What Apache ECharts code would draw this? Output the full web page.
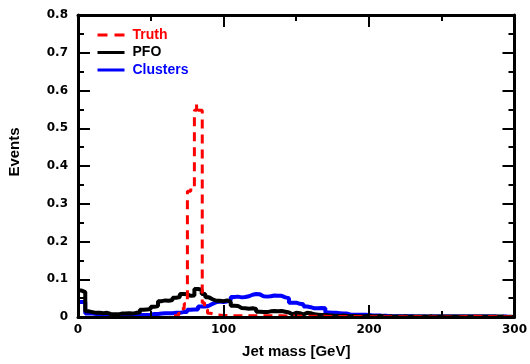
<!DOCTYPE html>
<html>
<head>
<meta charset="utf-8">
<script src="https://cdn.jsdelivr.net/npm/echarts@6/dist/echarts.min.js"></script>
<style>html,body{margin:0;padding:0;background:#fff;}#c{width:530px;height:364px;}</style>
</head>
<body>
<div id="c"></div>
<script>
// ---- data ----
var binWidth = 2.5; // GeV, PFO and Clusters histograms start at 0
var pfoValues = [
  0.070,0.066,0.015,0.013,0.011,0.011,0.010,0.011,0.008,0.007,
  0.007,0.009,0.009,0.010,0.009,0.011,0.012,0.019,0.020,0.021,
  0.027,0.029,0.042,0.044,0.043,0.045,0.051,0.053,0.061,0.060,
  0.056,0.057,0.074,0.072,0.061,0.052,0.047,0.043,0.043,0.042,
  0.044,0.040,0.030,0.029,0.024,0.023,0.022,0.023,0.021,0.014,
  0.013,0.013,0.015,0.016,0.015,0.016,0.014,0.012,0.007,0.011,
  0.010,0.007,0.011,0.010,0.007,0.006,0.005,0.005,0.004,0.004,
  0.003,0.003,0.004,0.003,0.002,0.003,0.002,0.002,0.002,0.003,
  0.002,0.002,0.003,0.002,0.001,0.002,0.001,0.001,0.001,0.002,
  0.001,0.001,0.001,0.001,0.001,0.001,0.002,0.001,0.001,0.001,
  0.001,0.001,0.001,0.001,0.001,0.001,0.001,0.001,0.001,0.001,
  0.001,0.001,0.001,0.001,0.001,0.001,0.001,0.000,0.001,0.000
];
var clusterValues = [
  0.040,0.040,0.009,0.009,0.008,0.008,0.005,0.004,0.004,0.004,
  0.004,0.004,0.004,0.003,0.004,0.004,0.005,0.005,0.005,0.006,
  0.008,0.008,0.009,0.010,0.010,0.010,0.011,0.011,0.013,0.013,
  0.019,0.020,0.020,0.028,0.028,0.030,0.035,0.039,0.041,0.040,
  0.041,0.045,0.053,0.054,0.052,0.053,0.055,0.059,0.061,0.060,
  0.055,0.054,0.055,0.057,0.056,0.056,0.052,0.050,0.038,0.038,
  0.035,0.034,0.028,0.026,0.023,0.023,0.024,0.023,0.012,0.011,
  0.011,0.010,0.009,0.009,0.006,0.006,0.006,0.006,0.006,0.005,
  0.004,0.004,0.004,0.003,0.003,0.002,0.002,0.002,0.002,0.002,
  0.002,0.002,0.001,0.001,0.001,0.001,0.001,0.001,0.001,0.001,
  0.001,0.001,0.001,0.001,0.001,0.001,0.001,0.001,0.001,0.001,
  0.001,0.001,0.001,0.001,0.001,0.000,0.001,0.001,0.000,0.000
];
var truthEdges = [66,69,71,73,75.2,77.5,80,81.5,82.5,85.4,87,89,91,95,100,110,125,140,160,200,260,270,300];
var truthValues = [0.003,0.010,0.022,0.035,0.333,0.342,0.548,0.565,0.548,0.038,0.020,0.010,0.006,0.004,0.003,0.003,0.003,0.002,0.001,0.000,0.002,0.000];
var seriesNames = ['Truth','PFO','Clusters'];
var xTicks = {min:0, max:300, interval:100};
var yTicks = {min:0, max:0.8, interval:0.1};

// ---- build step points ----
function uniformSteps(values, w){
  var pts = [];
  for (var i=0;i<values.length;i++) pts.push([i*w, values[i]]);
  pts.push([values.length*w, values[values.length-1]]);
  return pts;
}
function edgeSteps(edges, values){
  var pts = [];
  for (var i=0;i<values.length;i++) pts.push([edges[i], values[i]]);
  pts.push([edges[edges.length-1], values[values.length-1]]);
  return pts;
}

var tickFont = {fontFamily:'DejaVu Sans', fontWeight:'bold', fontSize:12, color:'#000'};
function axisCommon(extra){
  var base = {
    z:10,
    axisLine:{show:true, onZero:false, lineStyle:{color:'#000', width:3}},
    axisTick:{show:true, inside:true, length:12, lineStyle:{color:'#000', width:2}},
    minorTick:{show:true, splitNumber:2, length:6, lineStyle:{color:'#000', width:2}},
    splitLine:{show:false},
    minorSplitLine:{show:false}
  };
  for (var k in extra) base[k] = extra[k];
  return base;
}

var chart = echarts.init(document.getElementById('c'), null, {renderer:'canvas'});
chart.setOption({
  animation:false,
  backgroundColor:'#fff',
  grid:{left:78, right:15, top:15, bottom:36, containLabel:false},
  legend:{
    show:true, orient:'vertical', left:96, top:28, padding:0, itemWidth:27, itemHeight:14, itemGap:3.5,
    itemStyle:{opacity:0},
    textStyle:{fontFamily:'Liberation Sans', fontWeight:'bold', fontSize:14, padding:[0,0,0,3]},
    data:[
      {name:'Truth', textStyle:{color:'#ff0000'}, lineStyle:{width:3, type:[10,7]}},
      {name:'PFO', textStyle:{color:'#000000'}, lineStyle:{width:3}},
      {name:'Clusters', textStyle:{color:'#0000ff'}, lineStyle:{width:3}}
    ]
  },
  xAxis:[
    axisCommon({type:'value', position:'bottom', min:xTicks.min, max:xTicks.max, interval:xTicks.interval,
      name:'Jet mass [GeV]', nameLocation:'middle', nameGap:27,
      nameTextStyle:{fontFamily:'Liberation Sans', fontWeight:'bold', fontSize:15, color:'#000'},
      axisLabel:Object.assign({margin:7}, tickFont)}),
    axisCommon({type:'value', position:'top', min:xTicks.min, max:xTicks.max, interval:xTicks.interval,
      axisLabel:{show:false}})
  ],
  yAxis:[
    axisCommon({type:'value', position:'left', min:yTicks.min, max:yTicks.max, interval:yTicks.interval,
      axisLabel:Object.assign({margin:10, formatter:function(v){return v===0?'0':(Math.round(v*10)/10).toString();}}, tickFont)}),
    axisCommon({type:'value', position:'right', min:yTicks.min, max:yTicks.max, interval:yTicks.interval,
      axisLabel:{show:false}})
  ],
  graphic:[
    {type:'text', x:15, y:152, rotation:Math.PI/2,
      style:{text:'Events', fontFamily:'Liberation Sans', fontWeight:'bold', fontSize:15, fill:'#000',
        align:'center', verticalAlign:'middle'}}
  ],
  series:[
    {name:seriesNames[2], type:'line', step:'end', showSymbol:false, symbol:'none', z:3,
      data:uniformSteps(clusterValues, binWidth),
      itemStyle:{color:'#0000ff'}, lineStyle:{color:'#0000ff', width:4}},
    {name:seriesNames[1], type:'line', step:'end', showSymbol:false, symbol:'none', z:4,
      data:uniformSteps(pfoValues, binWidth),
      itemStyle:{color:'#000000'}, lineStyle:{color:'#000000', width:4}},
    {name:seriesNames[0], type:'line', step:'end', showSymbol:false, symbol:'none', z:5,
      data:edgeSteps(truthEdges, truthValues),
      itemStyle:{color:'#ff0000'}, lineStyle:{color:'#ff0000', width:3, type:[9,6]}}
  ]
});
</script>
</body>
</html>
